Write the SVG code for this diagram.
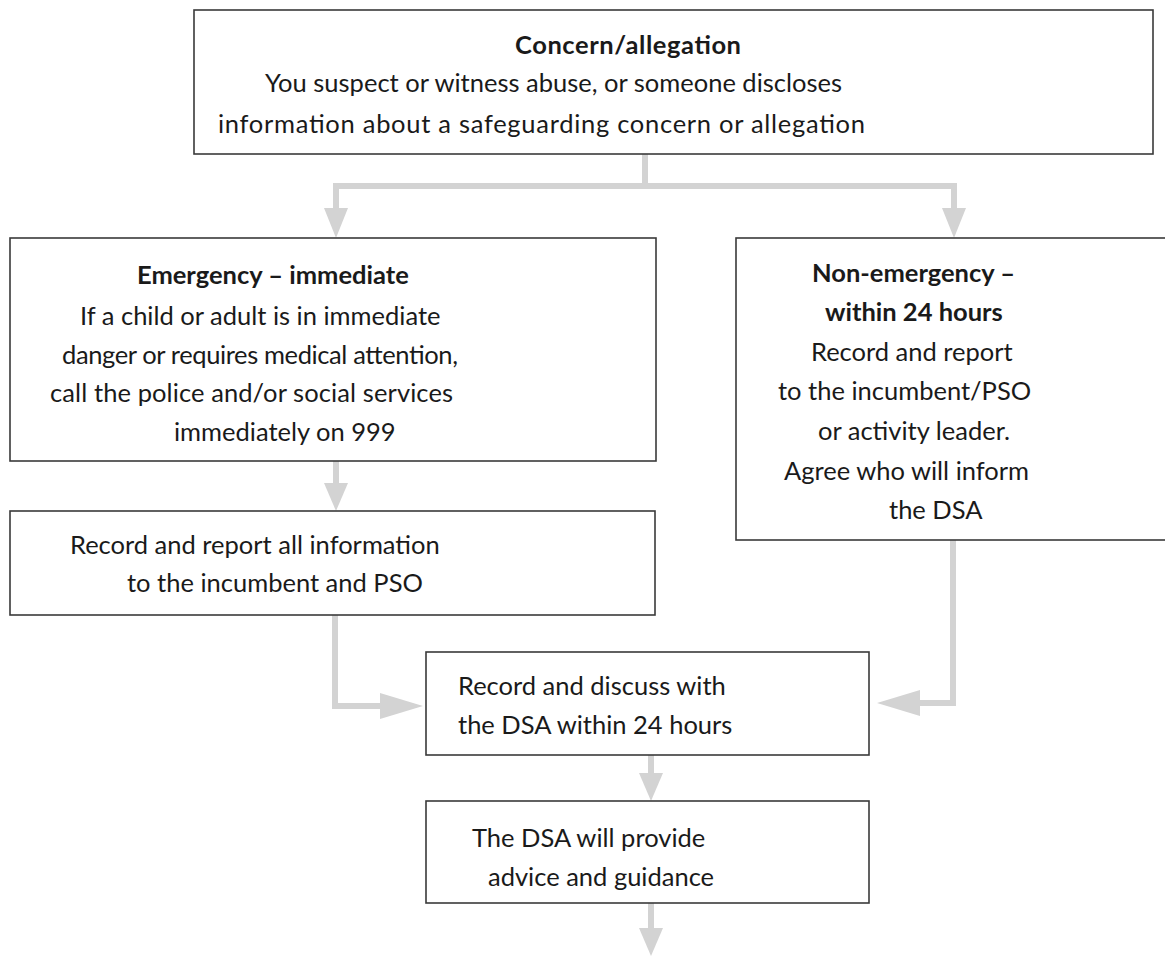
<svg xmlns="http://www.w3.org/2000/svg" width="1165" height="958" viewBox="0 0 1165 958">
<style>
.box{fill:#fff;stroke:#3a3a3a;stroke-width:1.6}
.t{font-family:Lato,"Open Sans",sans-serif;font-size:25.5px;fill:#1a1a1a}
.b{font-weight:bold}
.c{fill:none;stroke:#d3d3d3;stroke-width:6}
.h{fill:#d3d3d3}
</style>
<rect width="1165" height="958" fill="#fff"/>
<g id="connectors">
<polyline class="c" points="645,154 645,186 336,186 336,210"/>
<polyline class="c" points="645,186 954,186 954,210"/>
<polygon class="h" points="324,208 348,208 336,238"/>
<polygon class="h" points="942,208 966,208 954,238"/>
<line class="c" x1="336" y1="461" x2="336" y2="485"/>
<polygon class="h" points="324,483 348,483 336,511"/>
<polyline class="c" points="335,615 335,706 385,706"/>
<polygon class="h" points="380,693 423,706 380,719"/>
<polyline class="c" points="953,540 953,703 915,703"/>
<polygon class="h" points="920,690 877,703 920,716"/>
<line class="c" x1="651" y1="755" x2="651" y2="775"/>
<polygon class="h" points="639,773 663,773 651,801"/>
<line class="c" x1="651" y1="903" x2="651" y2="930"/>
<polygon class="h" points="639,928 663,928 651,956"/>
</g>
<g id="concern">
<rect class="box" x="194" y="10" width="959" height="144"/>
<text class="t b" x="515" y="54" textLength="226" lengthAdjust="spacing">Concern/allegation</text>
<text class="t" x="265" y="92">You suspect or witness abuse, or someone discloses</text>
<text class="t" x="218" y="133" textLength="647" lengthAdjust="spacing">information about a safeguarding concern or allegation</text>
</g>
<g id="emergency">
<rect class="box" x="10" y="238" width="646" height="223"/>
<text class="t b" x="137" y="284">Emergency – immediate</text>
<text class="t" x="80" y="325">If a child or adult is in immediate</text>
<text class="t" x="62" y="364" textLength="396" lengthAdjust="spacing">danger or requires medical attention,</text>
<text class="t" x="50" y="402" textLength="403" lengthAdjust="spacing">call the police and/or social services</text>
<text class="t" x="174" y="441">immediately on 999</text>
</g>
<g id="nonemergency">
<rect class="box" x="736" y="238" width="440" height="302"/>
<text class="t b" x="812" y="282">Non-emergency –</text>
<text class="t b" x="825" y="321">within 24 hours</text>
<text class="t" x="811" y="361">Record and report</text>
<text class="t" x="778" y="400">to the incumbent/PSO</text>
<text class="t" x="818" y="440">or activity leader.</text>
<text class="t" x="784" y="480">Agree who will inform</text>
<text class="t" x="889" y="519">the DSA</text>
</g>
<g id="record-report">
<rect class="box" x="10" y="511" width="645" height="104"/>
<text class="t" x="70" y="554">Record and report all information</text>
<text class="t" x="127" y="592">to the incumbent and PSO</text>
</g>
<g id="record-discuss">
<rect class="box" x="426" y="652" width="443" height="103"/>
<text class="t" x="458" y="695">Record and discuss with</text>
<text class="t" x="458" y="734">the DSA within 24 hours</text>
</g>
<g id="dsa-advice">
<rect class="box" x="426" y="801" width="443" height="102"/>
<text class="t" x="472" y="847">The DSA will provide</text>
<text class="t" x="488" y="886">advice and guidance</text>
</g>
</svg>
